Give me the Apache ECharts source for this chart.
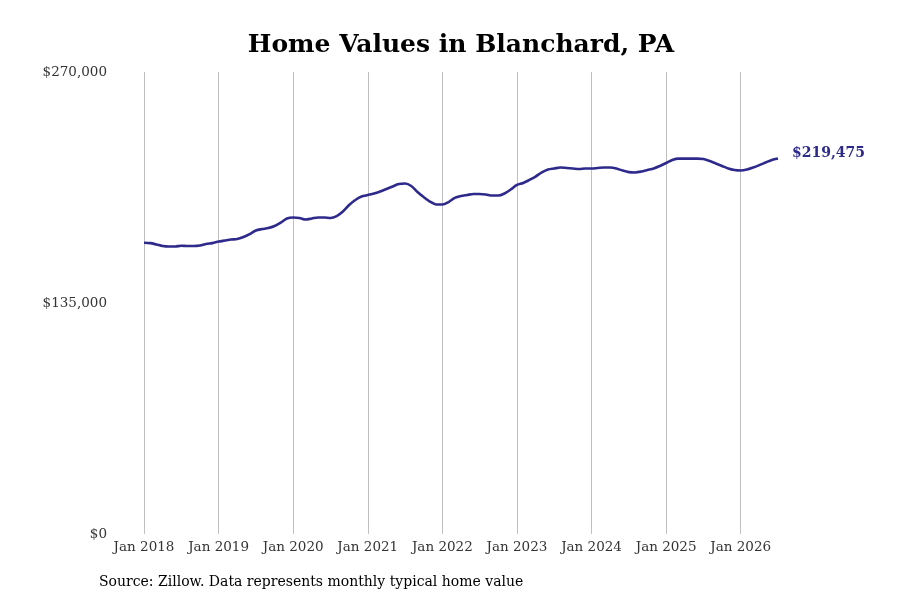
<!DOCTYPE html>
<html>
<head>
<meta charset="utf-8">
<title>Home Values in Blanchard, PA</title>
<script src="https://cdn.jsdelivr.net/npm/echarts@6/dist/echarts.min.js"></script>
<style>
  html, body { margin: 0; padding: 0; background: #fff; }
  #chart { width: 900px; height: 600px; }
</style>
</head>
<body>
<div id="chart"></div>
<script>
// monthly typical home value, Jan 2018 .. Jul 2026
const values2018 = [170200, 170000, 169200, 168300, 168000, 168000, 168500, 168300, 168300, 168600, 169500, 170000]
const values2019 = [170900, 171500, 172100, 172400, 173600, 175300, 177400, 178200, 178800, 180000, 182000, 184400]
const values2020 = [185000, 184700, 183800, 184400, 185000, 185000, 184700, 185800, 188500, 192300, 195200, 197200]
const values2021 = [198100, 199000, 200200, 201600, 203100, 204500, 204800, 203400, 199900, 196900, 194300, 192600]
const values2022 = [192600, 194000, 196400, 197500, 198100, 198700, 198700, 198400, 197800, 197800, 199000, 201300]
const values2023 = [204000, 205100, 206900, 208900, 211300, 213000, 213600, 214200, 213900, 213600, 213300, 213600]
const values2024 = [213600, 213900, 214200, 214200, 213600, 212400, 211500, 211300, 211800, 212700, 213600, 215100]
const values2025 = [216800, 218600, 219400, 219400, 219400, 219400, 219100, 218000, 216500, 215100, 213600, 212700]
const values2026 = [212400, 213000, 214200, 215600, 217100, 218600, 219475]

const yTicks = [0, 135000, 270000]
const monthNames = ['Jan', 'Feb', 'Mar', 'Apr', 'May', 'Jun', 'Jul', 'Aug', 'Sep', 'Oct', 'Nov', 'Dec']
const startYear = 2018

const values = [].concat(values2018, values2019, values2020, values2021, values2022,
    values2023, values2024, values2025, values2026)
const months = values.map((v, i) => monthNames[i % 12] + ' ' + (startYear + Math.floor(i / 12)))

const font = 'DejaVu Serif'
const lineColor = '#2e2a8c'
const money = v => '$' + Number(v).toLocaleString('en-US')
const isJan = i => i % 12 === 0

const chart = echarts.init(document.getElementById('chart'), null, { renderer: 'canvas' })

chart.setOption({
    backgroundColor: '#fff',
    animation: false,
    grid: { left: 144, right: 122, top: 72, bottom: 66 },
    graphic: [
        {
            type: 'text', x: 461, y: 45,
            style: {
                text: 'Home Values in Blanchard, PA', fill: '#000',
                font: 'bold 25px "DejaVu Serif"', textAlign: 'center', textVerticalAlign: 'middle'
            }
        },
        {
            type: 'text', x: 99, y: 582,
            style: {
                text: 'Source: Zillow. Data represents monthly typical home value', fill: '#000',
                font: '14px "DejaVu Serif"', textAlign: 'left', textVerticalAlign: 'middle'
            }
        }
    ],
    xAxis: {
        type: 'category',
        data: months,
        boundaryGap: false,
        axisLine: { show: false },
        axisTick: { show: false, interval: isJan },
        splitLine: { show: true, interval: isJan, lineStyle: { color: '#c0c0c0', width: 1 } },
        axisLabel: {
            interval: isJan, margin: 6, color: '#333',
            fontFamily: font, fontSize: 13.5
        }
    },
    yAxis: {
        type: 'value',
        min: yTicks[0],
        max: yTicks[yTicks.length - 1],
        interval: yTicks[1] - yTicks[0],
        axisLine: { show: false },
        axisTick: { show: false },
        splitLine: { show: false },
        axisLabel: {
            margin: 37, color: '#333', fontFamily: font, fontSize: 13.5,
            padding: [8, 0, 0, 0],
            formatter: money
        }
    },
    series: [{
        type: 'line',
        data: values,
        smooth: 0.3,
        showSymbol: false,
        lineStyle: { color: lineColor, width: 2.6 },
        endLabel: {
            show: true,
            formatter: p => money(p.value),
            color: lineColor,
            fontFamily: font,
            fontWeight: 'bold',
            fontSize: 14,
            distance: 14,
            offset: [0, -5]
        }
    }]
})
</script>
</body>
</html>
